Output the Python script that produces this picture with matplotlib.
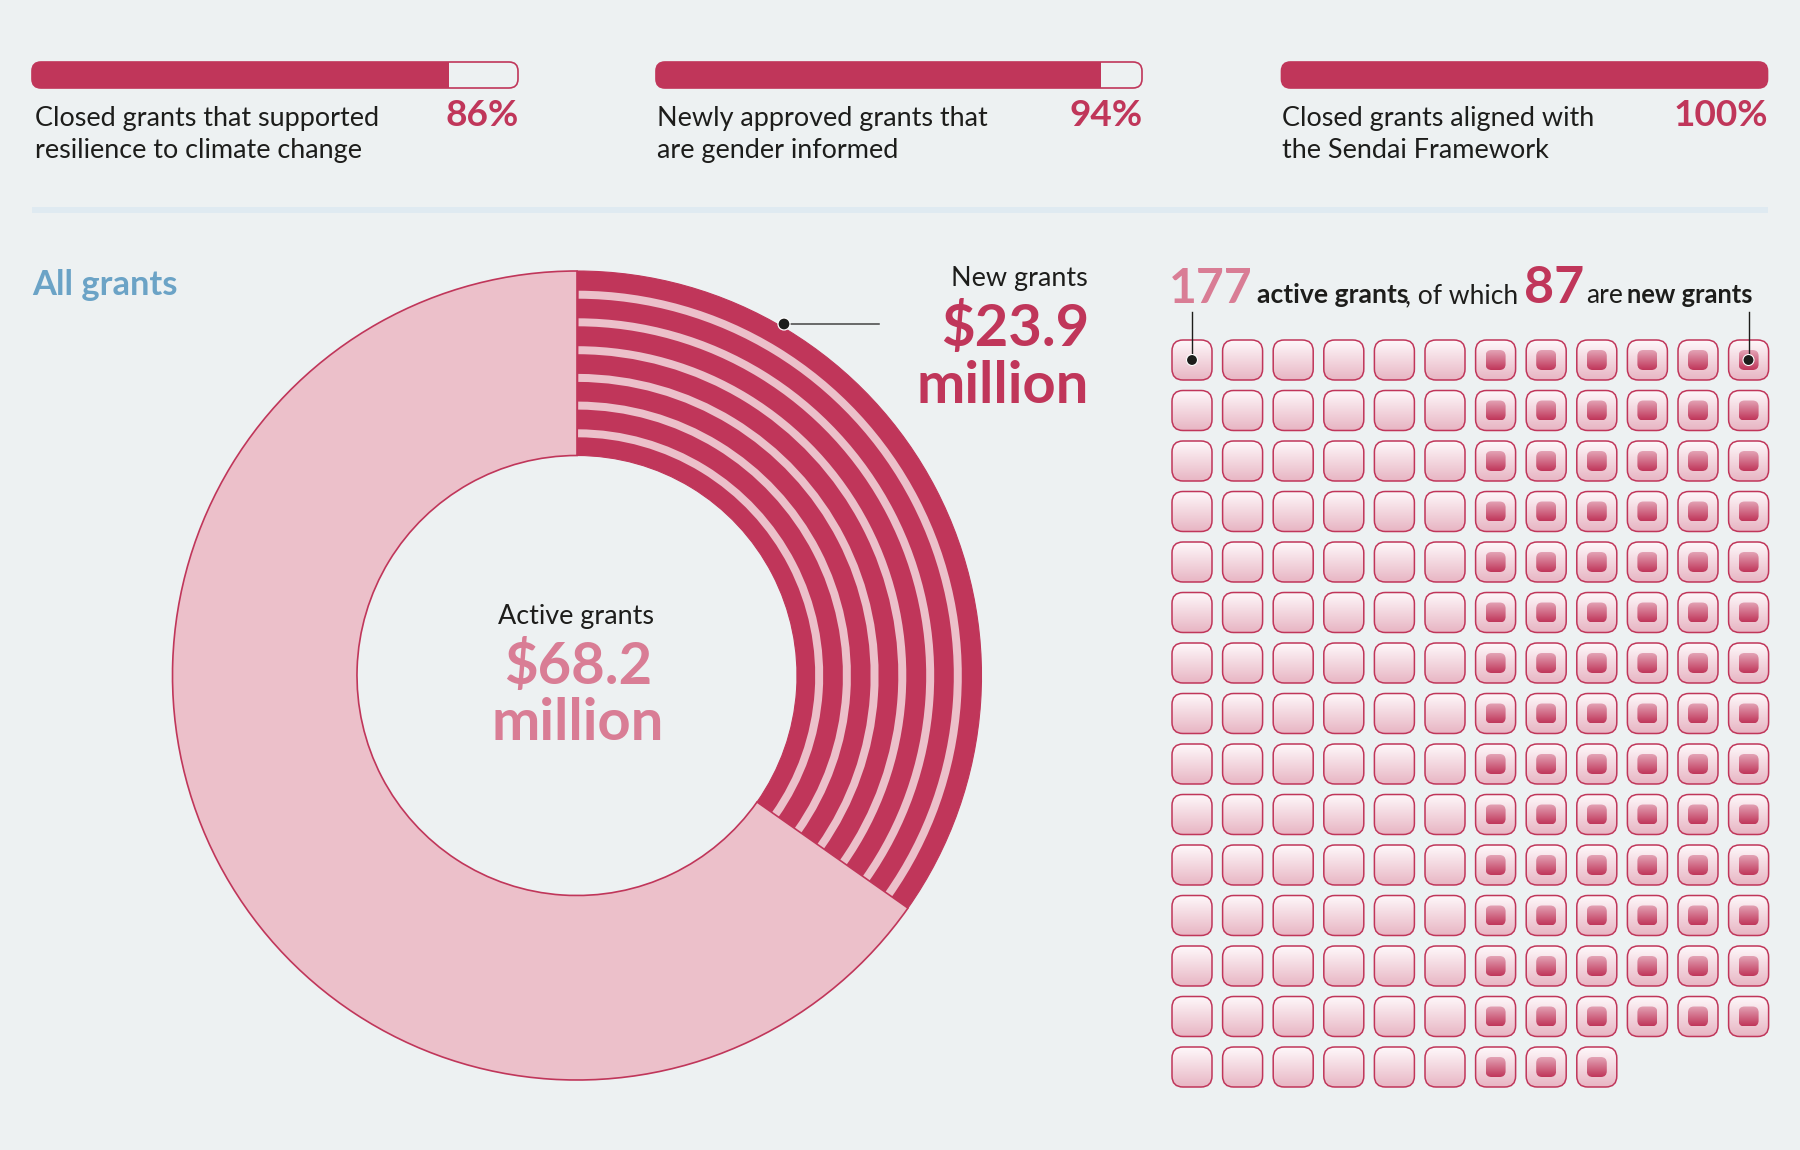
import numpy as np
import matplotlib
matplotlib.use("Agg")
import matplotlib.pyplot as plt
from matplotlib.colors import LinearSegmentedColormap
from matplotlib.patches import FancyBboxPatch, Wedge, Circle

# ---------- Datos ----------
bar_labels = [
    "Closed grants that supported\nresilience to climate change",
    "Newly approved grants that\nare gender informed",
    "Closed grants aligned with\nthe Sendai Framework",
]
bar_values = [86, 94, 100]
bar_drawn = [85.8, 91.5, 100]  # lo que se ve dibujado en la imagen

active_million = 68.2
new_million = 23.9
new_ring_share = 0.3475
active_grants = 177
new_grants = 87
grid_columns = 12

# ---------- Estilo ----------
BG = "#edf1f2"
DARK = "#c0365a"
LIGHT = "#ecc0ca"
MID = "#d97d95"
BLUE = "#6ba3c6"
INK = "#1d1d1b"
FONT = ["Lato", "DejaVu Sans"]
plt.rcParams["font.family"] = FONT

cmap_cell = LinearSegmentedColormap.from_list("cell", ["#fef8fa", "#e8b6c4"])
cmap_new = LinearSegmentedColormap.from_list("new", ["#e3a3b5", "#c0365a"])
ramp = np.linspace(0, 1, 64).reshape(-1, 1)

fig = plt.figure(figsize=(18, 11.5), dpi=100, facecolor=BG)
ax = fig.add_axes([0, 0, 1, 1])
ax.set_xlim(0, 1800)
ax.set_ylim(1150, 0)
ax.axis("off")


def put(x, y, s, px, color=INK, weight="normal", ha="left", **kw):
    ax.text(x, y, s, fontsize=px * 0.72, color=color, weight=weight, ha=ha, va="baseline", **kw)


def rounded(x, y, w, h, r, **kw):
    p = FancyBboxPatch((x, y), w, h, boxstyle=f"round,pad=0,rounding_size={r}", **kw)
    ax.add_patch(p)
    return p


def gradient_box(x, y, w, h, r, cmap, edge=None):
    p = rounded(x, y, w, h, r, fc="none", ec=edge or "none", lw=1.1, zorder=4)
    im = ax.imshow(ramp, cmap=cmap, vmin=0, vmax=1, extent=(x, x + w, y + h, y),
                   aspect="auto", zorder=3, interpolation="bilinear")
    im.set_clip_path(p)


# ---------- Barras de arriba ----------
bar_x = [32, 656, 1281.5]
bar_w = 486
text_x = [35, 657, 1282]
for x0, tx, label, val, drawn in zip(bar_x, text_x, bar_labels, bar_values, bar_drawn):
    frame = rounded(x0, 62, bar_w, 26, 9, fc=BG, ec=DARK, lw=1.2, zorder=2)
    fill = ax.barh(75, bar_w * drawn / 100, height=26, left=x0, color=DARK, zorder=3)[0]
    fill.set_clip_path(frame)
    line1, line2 = label.split("\n")
    put(tx, 126, line1, 27)
    put(tx, 158, line2, 27)
    put(x0 + bar_w + 1, 126, f"{val}%", 37, color=DARK, weight="bold", ha="right")

ax.fill_between([32, 1768], 207, 212.5, color="#dfeaf1", lw=0, zorder=1)

put(32, 295, "All grants", 34.5, color=BLUE, weight="bold")

# ---------- Anillo ----------
cx, cy = 577, 675.5
r_out, r_in = 404.5, 220
end_angle = -90 + 360 * new_ring_share

ax.add_patch(Wedge((cx, cy), r_out, -90, end_angle, width=r_out - r_in, fc=DARK, ec=DARK, lw=0.8, zorder=2))
for r in [384.8, 357.2, 329.3, 301.6, 273.9, 246.2]:
    ax.add_patch(Wedge((cx, cy), r, -89.75, end_angle, width=8, fc=LIGHT, ec="none", zorder=3))
ax.add_patch(Wedge((cx, cy), r_out, end_angle, 270, width=r_out - r_in, fc=LIGHT, ec=DARK, lw=1.2, zorder=4))

put(576, 624, "Active grants", 27, ha="center")
put(578, 684, f"${active_million}", 58, color=MID, weight="bold", ha="center")
put(578, 740, "million", 58, color=MID, weight="bold", ha="center")

put(1088, 286, "New grants", 27, ha="right")
put(1089, 346, f"${new_million}", 58, color=DARK, weight="bold", ha="right")
put(1089, 403, "million", 58, color=DARK, weight="bold", ha="right")

ax.plot([784, 879], [324, 324], color="#444444", lw=1.1, zorder=5)
ax.add_patch(Circle((784, 324), 6, fc=INK, ec="white", lw=0.9, zorder=6))

# ---------- Rejilla de proyectos ----------
grid_x, grid_y = 1172, 340
pitch_x, pitch_y, cell = 50.6, 50.5, 40
for i in range(active_grants):
    row, col = divmod(i, grid_columns)
    x, y = grid_x + col * pitch_x, grid_y + row * pitch_y
    gradient_box(x, y, cell, cell, 11, cmap_cell, edge=DARK)
    if col >= grid_columns // 2:
        gradient_box(x + 10, y + 10, 20, 20, 6, cmap_new)

put(1169, 303, f"{active_grants}", 48, color=MID, weight="bold")
put(1257, 303, "active grants", 26.5, weight="bold")
put(1405, 303, ", of which", 26.5)
put(1524, 303, f"{new_grants}", 52, color=DARK, weight="bold")
put(1586, 303, "are", 26.5)
put(1627, 303, "new grants", 25.5, weight="bold")

for x in [1192, 1748.5]:
    ax.plot([x, x], [312, 360], color=INK, lw=1.0, zorder=6)
    ax.add_patch(Circle((x, 360), 5.5, fc=INK, ec="white", lw=0.8, zorder=7))

ax.set_xlim(0, 1800)
ax.set_ylim(1150, 0)
fig.savefig("out.png", dpi=100, facecolor=BG)
